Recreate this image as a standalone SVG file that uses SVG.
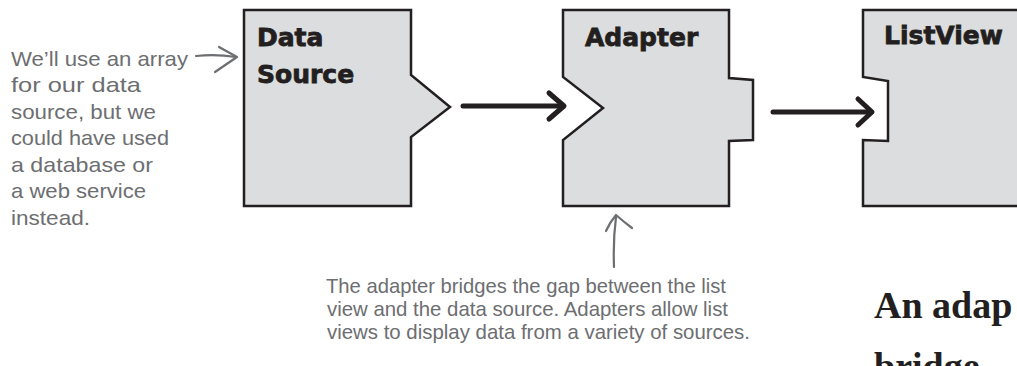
<svg xmlns="http://www.w3.org/2000/svg" width="1017" height="366" viewBox="0 0 1017 366">
<style>
.box{fill:#dcdddf;stroke:#231f20;stroke-width:2.5;stroke-linejoin:miter}
.title{font-family:"DejaVu Sans",sans-serif;font-weight:bold;font-size:25px;fill:#231f20;stroke:#231f20;stroke-width:0.8}
.arrow{fill:none;stroke:#231f20;stroke-width:5;stroke-linecap:round;stroke-linejoin:round}
.hand{fill:none;stroke:#6d6e71;stroke-width:2.2;stroke-linecap:round;stroke-linejoin:round}
.note{font-family:"Liberation Sans",sans-serif;font-size:21px;fill:#6d6e71}
.big{font-family:"Liberation Serif",serif;font-weight:bold;font-size:38px;fill:#231f20}
</style>
<rect width="1017" height="366" fill="#ffffff"/>
<g id="data-source">
<path class="box" d="M244,10 H411 V75 L450,107 L411,137 V206 H244 Z"/>
<text class="title" x="257" y="46">Data</text>
<text class="title" x="257" y="83">Source</text>
</g>
<g id="adapter">
<path class="box" d="M563,10 H729 V78 L753,80 V140 L729,141 V206 H563 V140 L603,108 L563,77 Z"/>
<text class="title" x="585" y="46">Adapter</text>
</g>
<g id="listview">
<path class="box" d="M863,10 H1030 V206 H863 V140 L888,141 V81 L863,77 Z"/>
<text class="title" x="884" y="44">ListView</text>
</g>
<g id="connectors">
<path class="arrow" d="M463,106 H562"/>
<path class="arrow" d="M549,93 L564,106 L549,119"/>
<path class="arrow" d="M773,112 H871"/>
<path class="arrow" d="M858,99 L872,112 L858,125"/>
<path class="hand" d="M196,56 Q216,54 236,57"/>
<path class="hand" d="M219,47 L237,57 L215,72"/>
<path class="hand" d="M614,267 Q613,240 616,217"/>
<path class="hand" d="M606,231 Q610,222 616,215 Q624,222 632,228"/>
</g>
<g id="note-left">
<text class="note" x="11" y="66" textLength="177" lengthAdjust="spacingAndGlyphs">We’ll use an array</text>
<text class="note" x="11" y="92" textLength="130" lengthAdjust="spacingAndGlyphs">for our data</text>
<text class="note" x="11" y="119" textLength="145" lengthAdjust="spacingAndGlyphs">source, but we</text>
<text class="note" x="11" y="145" textLength="158" lengthAdjust="spacingAndGlyphs">could have used</text>
<text class="note" x="11" y="172" textLength="142" lengthAdjust="spacingAndGlyphs">a database or</text>
<text class="note" x="11" y="198" textLength="135" lengthAdjust="spacingAndGlyphs">a web service</text>
<text class="note" x="11" y="225" textLength="79" lengthAdjust="spacingAndGlyphs">instead.</text>
</g>
<g id="note-bottom">
<text class="note" x="326" y="293" textLength="400" lengthAdjust="spacingAndGlyphs">The adapter bridges the gap between the list</text>
<text class="note" x="327" y="316" textLength="401" lengthAdjust="spacingAndGlyphs">view and the data source. Adapters allow list</text>
<text class="note" x="327" y="339" textLength="423" lengthAdjust="spacingAndGlyphs">views to display data from a variety of sources.</text>
</g>
<g id="heading">
<text class="big" x="874" y="318">An adap</text>
<text class="big" x="874" y="379">bridge</text>
</g>
</svg>
